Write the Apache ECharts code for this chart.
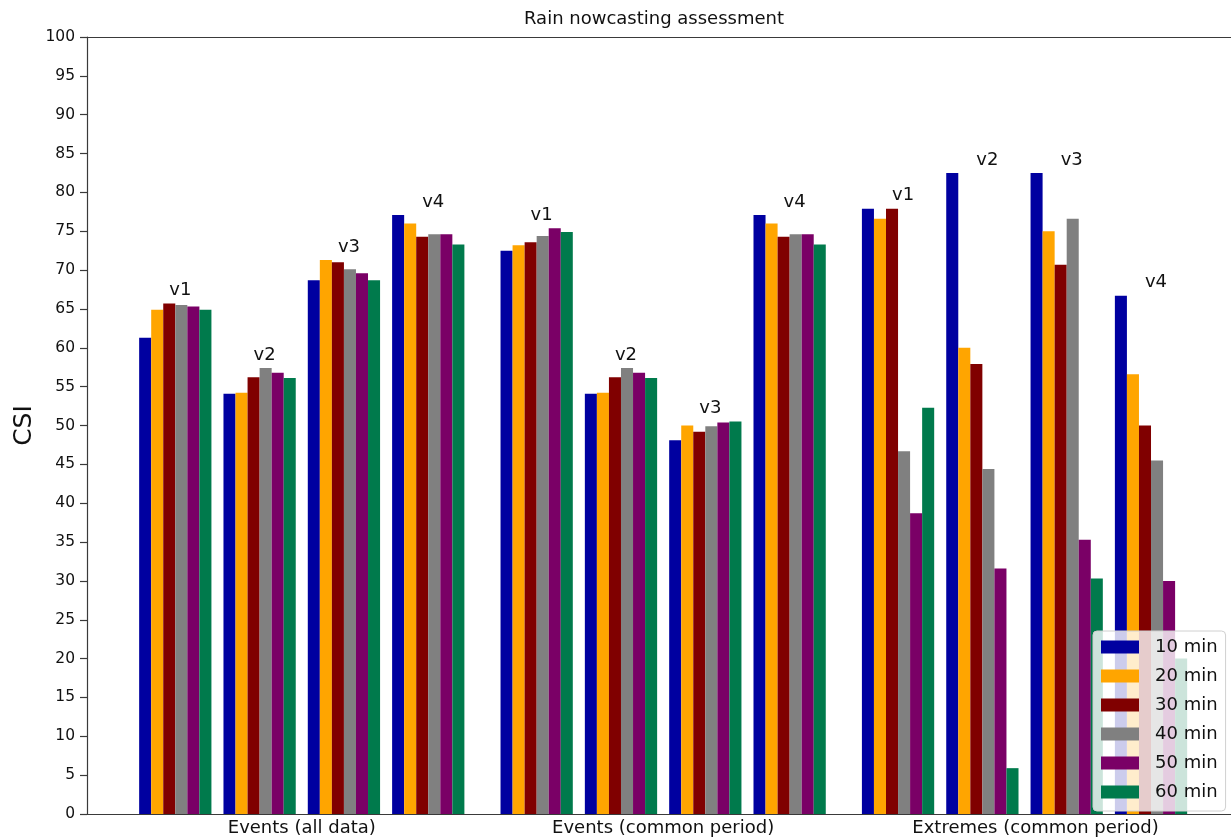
<!DOCTYPE html>
<html>
<head>
<meta charset="utf-8">
<title>Rain nowcasting assessment</title>
<script src="https://cdn.jsdelivr.net/npm/echarts@6/dist/echarts.min.js"></script>
<style>
  html, body { margin: 0; padding: 0; background: #fff; }
  #chart { width: 1231px; height: 840px; }
</style>
</head>
<body>
<div id="chart"></div>
<script>
// Evaluation groups, model versions within each group, and lead times (one series each)
const groups = ['Events (all data)', 'Events (common period)', 'Extremes (common period)'];
const versions = ['v1', 'v2', 'v3', 'v4'];
const leadTimes = ['10 min', '20 min', '30 min', '40 min', '50 min', '60 min'];

// CSI per lead time, ordered group by group, v1..v4 inside each group
const csi10 = [61.3, 54.1, 68.7, 77.1, 72.5, 54.1, 48.1, 77.1, 77.9, 82.5, 82.5, 66.7];
const csi20 = [64.9, 54.2, 71.3, 76.0, 73.2, 54.2, 50.0, 76.0, 76.6, 60.0, 75.0, 56.6];
const csi30 = [65.7, 56.2, 71.0, 74.3, 73.6, 56.2, 49.2, 74.3, 77.9, 57.9, 70.7, 50.0];
const csi40 = [65.5, 57.4, 70.1, 74.6, 74.4, 57.4, 49.9, 74.6, 46.7, 44.4, 76.6, 45.5];
const csi50 = [65.3, 56.8, 69.6, 74.6, 75.4, 56.8, 50.4, 74.6, 38.7, 31.6, 35.3, 30.0];
const csi60 = [64.9, 56.1, 68.7, 73.3, 74.9, 56.1, 50.5, 73.3, 52.3, 5.9, 30.3, 20.0];

// Y axis ticks
const yTicks = [0, 5, 10, 15, 20, 25, 30, 35, 40, 45, 50, 55, 60, 65, 70, 75, 80, 85, 90, 95, 100];

const seriesValues = [csi10, csi20, csi30, csi40, csi50, csi60];
const colors = ['#0000A0', '#FFA500', '#800000', '#808080', '#7A0066', '#007A4C'];

// Layout on a numeric x axis: one unit per version cluster, bar = 1/7 unit,
// groups separated by an extra 2/7 unit.
const BAR_FRAC = 1 / 7;
const GROUP_STEP = versions.length + 2 * BAR_FRAC;
const xPos = [];
groups.forEach((g, gi) => versions.forEach((v, vi) => xPos.push(gi * GROUP_STEP + vi)));
const groupCenters = groups.map((g, gi) => gi * GROUP_STEP + (versions.length - 1) / 2);

const X_MIN = -1.047, X_MAX = 12.52;
const FONT = 'DejaVu Sans';
const INK = '#111111';
const AXIS = '#3a3a3a';

const barSeries = leadTimes.map((name, si) => ({
  name: name,
  type: 'bar',
  barWidth: (BAR_FRAC * 100) + '%',
  barGap: 0,
  itemStyle: { color: colors[si] },
  data: seriesValues[si].map((v, i) => [xPos[i], v]),
  z: 2
}));

// Version labels sit above the tallest bar of each cluster
const versionLabels = xPos.map((x, i) => {
  const top = Math.max(...seriesValues.map(s => s[i]));
  return { value: [x, top], name: versions[i % versions.length] };
});

const chart = echarts.init(document.getElementById('chart'), null, { renderer: 'canvas' });
chart.setOption({
  animation: false,
  backgroundColor: '#ffffff',
  textStyle: { fontFamily: FONT },
  title: {
    text: 'Rain nowcasting assessment',
    left: 524, top: 10, padding: 0,
    textStyle: { fontFamily: FONT, fontSize: 18, fontWeight: 'normal', color: INK }
  },
  grid: { left: 87, right: 0, top: 37, bottom: 26 },
  legend: {
    orient: 'vertical',
    left: 1093, top: 631,
    padding: [7, 8, 10, 8],
    itemWidth: 38, itemHeight: 13, itemGap: 11,
    icon: 'rect',
    backgroundColor: 'rgba(255,255,255,0.8)',
    borderColor: '#d0d0d0', borderWidth: 1, borderRadius: 4,
    data: leadTimes,
    textStyle: { fontFamily: FONT, fontSize: 18, color: INK, lineHeight: 17, padding: [0, 0, 0, 11] }
  },
  xAxis: [{
    type: 'value',
    min: X_MIN, max: X_MAX,
    splitLine: { show: false },
    axisLine: { show: true, onZero: false, lineStyle: { color: AXIS, width: 1.2 } },
    axisTick: { show: false },
    axisLabel: {
      customValues: groupCenters,
      margin: 5,
      fontFamily: FONT, fontSize: 18, color: INK,
      formatter: (val) => {
        const gi = groupCenters.findIndex(c => Math.abs(c - val) < 1e-6);
        const label = gi >= 0 ? groups[gi] : '';
        return gi === groups.length - 1 ? '{shift|' + label + '}' : label;
      },
      rich: { shift: { fontFamily: FONT, fontSize: 18, color: INK, padding: [0, 0, 0, 22] } }
    }
  }, {
    type: 'value',
    position: 'top',
    min: X_MIN, max: X_MAX,
    splitLine: { show: false },
    axisLine: { show: true, onZero: false, lineStyle: { color: AXIS, width: 1.2 } },
    axisTick: { show: false },
    axisLabel: { show: false }
  }],
  yAxis: {
    type: 'value',
    min: yTicks[0], max: yTicks[yTicks.length - 1], interval: yTicks[1] - yTicks[0],
    name: 'CSI',
    nameLocation: 'middle',
    nameGap: 50,
    nameMoveOverlap: false,
    nameRotate: 90,
    nameTextStyle: { fontFamily: FONT, fontSize: 25, color: INK },
    splitLine: { show: false },
    axisLine: { show: true, onZero: false, lineStyle: { color: AXIS, width: 1.2 } },
    axisTick: { show: true, length: 7, lineStyle: { color: AXIS, width: 1.2 } },
    axisLabel: { margin: 12, fontFamily: FONT, fontSize: 15.5, color: INK }
  },
  series: barSeries.concat([{
    type: 'scatter',
    symbolSize: 0,
    silent: true,
    z: 3,
    itemStyle: { opacity: 1 },
    data: versionLabels,
    label: {
      show: true,
      position: 'top',
      distance: 4,
      offset: [5, 0],
      formatter: (p) => p.name,
      fontFamily: FONT, fontSize: 18, color: INK
    }
  }])
});
</script>
</body>
</html>
